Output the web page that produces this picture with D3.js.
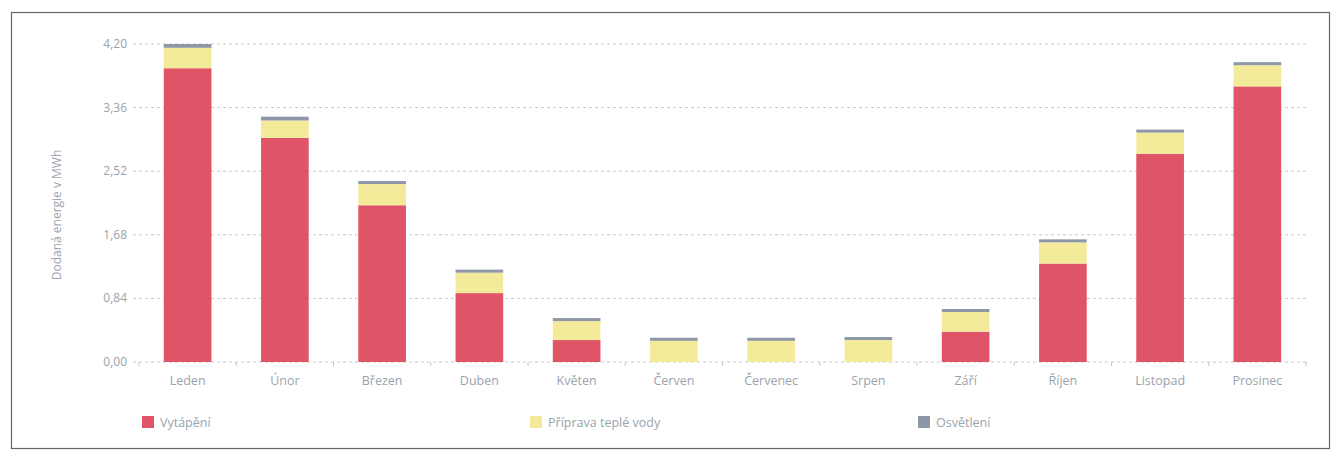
<!DOCTYPE html>
<html><head><meta charset="utf-8">
<script src="https://cdn.jsdelivr.net/npm/d3@7"></script>
<style>body{margin:0;background:#fff;}svg{display:block;}</style>
</head><body>
<svg id="c" width="1338" height="452"></svg>
<script>
const months = ["Leden","Únor","Březen","Duben","Květen","Červen","Červenec","Srpen","Září","Říjen","Listopad","Prosinec"];
const heating = [3.88, 2.96, 2.07, 0.91, 0.29, 0, 0, 0, 0.40, 1.30, 2.75, 3.64];
const hotWater = [0.27, 0.23, 0.28, 0.27, 0.25, 0.28, 0.28, 0.29, 0.26, 0.28, 0.28, 0.28];
const lighting = [0.05, 0.05, 0.04, 0.04, 0.04, 0.04, 0.04, 0.04, 0.04, 0.04, 0.04, 0.04];
const seriesNames = ["Vytápění", "Příprava teplé vody", "Osvětlení"];
const yTicks = [0, 0.84, 1.68, 2.52, 3.36, 4.20];
const colors = ["#e05467", "#f4eb9a", "#8d97a6"];

const svg = d3.select("#c");
const txt = "#9aa3ad";
const font = "'Open Sans', sans-serif";

// frame
svg.append("rect").attr("x",11.5).attr("y",12.5).attr("width",1318).attr("height",436)
  .attr("fill","none").attr("stroke","#666").attr("stroke-width",1.2);

const x = d3.scaleBand().domain(months).range([139,1306]).paddingInner(0.51).paddingOuter(0.255);
const y = d3.scaleLinear().domain([0,4.2]).range([362,44]);

// grid
svg.append("g").selectAll("line").data(yTicks).join("line")
  .attr("x1",133).attr("x2",1306).attr("y1",d=>y(d)).attr("y2",d=>y(d))
  .attr("stroke","#c4c8cc").attr("stroke-width",1).attr("stroke-dasharray","3,3");

// y labels
svg.append("g").selectAll("text").data(yTicks).join("text")
  .attr("x",127).attr("y",d=>y(d)+4).attr("text-anchor","end")
  .attr("font-family",font).attr("font-size",12).attr("fill",txt)
  .text(d=>d.toFixed(2).replace(".",","));

svg.append("text").attr("transform","translate(61,215) rotate(-90)")
  .attr("text-anchor","middle").attr("font-family",font).attr("font-size",12).attr("fill",txt)
  .text("Dodaná energie v MWh");

// x ticks at boundaries
const step = x.step();
svg.append("g").selectAll("line").data(d3.range(13)).join("line")
  .attr("x1",d=>139+d*step).attr("x2",d=>139+d*step).attr("y1",362).attr("y2",366)
  .attr("stroke","#c4c8cc");

// stacked data
const rows = months.map((m,i)=>({m, a:heating[i], b:hotWater[i], c:lighting[i]}));
const stack = d3.stack().keys(["a","b","c"])(rows);
svg.append("g").selectAll("g").data(stack).join("g")
  .attr("fill",(d,i)=>colors[i])
  .selectAll("rect").data(d=>d).join("rect")
  .attr("x",d=>x(d.data.m)).attr("width",x.bandwidth())
  .attr("y",d=>y(d[1])).attr("height",d=>Math.max(0,y(d[0])-y(d[1])));

// x labels
svg.append("g").selectAll("text").data(months).join("text")
  .attr("x",d=>x(d)+x.bandwidth()/2).attr("y",385).attr("text-anchor","middle")
  .attr("font-family",font).attr("font-size",12.5).attr("fill",txt).text(d=>d);

// legend
const legX = [142, 530, 918];
const lg = svg.append("g").selectAll("g").data(seriesNames).join("g")
  .attr("transform",(d,i)=>`translate(${legX[i]},416)`);
lg.append("rect").attr("width",12).attr("height",12).attr("fill",(d,i)=>colors[i]);
lg.append("text").attr("x",18).attr("y",11).attr("font-family",font).attr("font-size",12.5)
  .attr("fill",txt).text(d=>d);
</script>
</body></html>
